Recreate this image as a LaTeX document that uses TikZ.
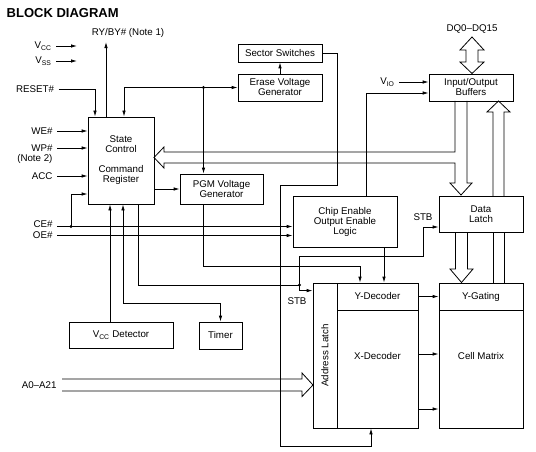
\documentclass[tikz,border=0pt]{standalone}
\usepackage{fontspec}
\setmainfont{Liberation Sans}
\usetikzlibrary{arrows.meta,calc}

\begin{document}
\begin{tikzpicture}[x=1pt, y=-1pt, line width=0.8pt,
		every node/.style={font=\fontsize{9.75}{10}\selectfont},
		blk/.style={draw, fill=white, align=center, inner sep=0pt},
		lbl/.style={inner sep=1.5pt, outer sep=3pt},
		arr/.style={-{Latex[length=6pt, width=3.5pt]}},
		arrs/.style={{Latex[length=6pt, width=3.5pt]}-{Latex[length=6pt, width=3.5pt]}}]
			\useasboundingbox (0,0) rectangle (536,452);
			\node[anchor=west, font=\bfseries\fontsize{13}{15}\selectfont] (title) at (3,13) {BLOCK DIAGRAM};

			\node[blk, minimum width=66pt, minimum height=87pt] (sc) at (121,160.5) {State\\Control\\[10pt]Command\\Register};
			\node[blk, minimum width=83pt, minimum height=30pt] (pgm) at (221.5,189) {PGM Voltage\\Generator};
			\node[blk, minimum width=84pt, minimum height=18pt] (ss) at (280,53) {Sector Switches};
			\node[blk, minimum width=84pt, minimum height=27pt] (evg) at (280,87.5) {Erase Voltage\\Generator};
			\node[blk, minimum width=84pt, minimum height=27pt] (iob) at (471,87.5) {Input/Output\\Buffers};
			\node[blk, minimum width=104pt, minimum height=51pt] (ceo) at (345,221.5) {Chip Enable\\Output Enable\\Logic};
			\node[blk, minimum width=84pt, minimum height=36pt] (dl) at (481,214) {Data\\Latch};
			\node[blk, minimum width=104pt, minimum height=26pt] (vccd) at (121,335) {V\textsubscript{CC} Detector};
			\node[blk, minimum width=43pt, minimum height=27pt] (timer) at (220.5,335.5) {Timer};
			\node[blk, minimum width=24pt, minimum height=145pt] (al) at (325,355.5) {\rotatebox{90}{Address Latch}};
			\node[blk, minimum width=81pt, minimum height=27pt] (yd) at (377.5,296.5) {Y-Decoder};
			\node[blk, minimum width=81pt, minimum height=118pt, label={[yshift=13pt]center:X-Decoder}] (xd) at (377.5,369) {};
			\node[blk, minimum width=84pt, minimum height=27pt] (yg) at (481,296.5) {Y-Gating};
			\node[blk, minimum width=84pt, minimum height=118pt, label={[yshift=13pt]center:Cell Matrix}] (cm) at (481,369) {};

			\node[lbl] (ryby) at (128,33) {RY/BY\# (Note 1)};
			\node[lbl, anchor=east] (vcc) at (56,46) {V\textsubscript{CC}};
			\node[lbl, anchor=east] (vss) at (56,61) {V\textsubscript{SS}};
			\node[lbl, anchor=east] (reset) at (58.5,89) {RESET\#};
			\node[lbl, anchor=east] (we) at (57,131) {WE\#};
			\node[lbl, anchor=east] (wp) at (57,148) {WP\#};
			\node[lbl, anchor=east] (note) at (57,159) {(Note 2)};
			\node[lbl, anchor=east] (acc) at (57,176) {ACC};
			\node[lbl, anchor=east] (ce) at (57,224) {CE\#};
			\node[lbl, anchor=east] (oe) at (57,235.5) {OE\#};
			\node[lbl, anchor=east] (addr) at (61,385) {A0--A21};
			\node[lbl] (dq) at (472,29) {DQ0--DQ15};
			\node[lbl, anchor=east] (vio) at (399,82) {V\textsubscript{IO}};
			\node[lbl] (stba) at (297,301) {STB};
			\node[lbl] (stbb) at (423,217) {STB};

			\coordinate (vccend) at (77,46);
			\coordinate (vssend) at (77,61);
			\coordinate (rybyout) at ($(sc.north)+(-15,0)$);
			\coordinate (pgmtap) at ($(pgm.north)+(-18,0)$);
			\coordinate (cedot) at (71,226.5);
			\coordinate (stbdot) at (299.5,285);
			\coordinate (ceout) at ($(ceo.south)+(39,0)$);

			% supplies and control inputs
			\draw[arr] (vcc.east) -- (vccend);
			\draw[arr] (vss.east) -- (vssend);
			\draw[arr] (rybyout) -- (rybyout |- ryby.south);
			\draw[arr] (reset.east) -| ($(sc.north)+(-26,0)$);
			\draw[arr] (we.east) -- (we.east -| sc.west);
			\draw[arr] (wp.east) -- (wp.east -| sc.west);
			\draw[arr] (acc.east) -- (acc.east -| sc.west);
			\draw[arr] (ce.east |- cedot) -- (ceo.west |- cedot);
			\draw[arr] (oe.east) -- (oe.east -| ceo.west);
			\draw[arr] (cedot) |- ($(sc.west)+(0,33.5)$);
			\fill (cedot) circle (1.6pt);

			% erase / program
			\draw[arrs] ($(sc.north)+(3,0)$) |- (evg.west);
			\draw[arr] (pgmtap |- evg.west) -- (pgmtap);
			\fill (pgmtap |- evg.west) circle (1.6pt);
			\draw[arr] (evg.north) -- (ss.south);
			\draw[arr] (ss.east) -- ++(15,0) -- ++(0,132) -- ++(-57,0) -- ++(0,261) -| ($(xd.south)+(-6.5,0)$);
			\draw[arr] (sc.east |- pgm.west) -- (pgm.west);
			\draw[arr] ($(pgm.south)+(-18,0)$) -- ++(0,62) -| ($(yd.north)+(-17.5,0)$);
			\draw[arr] ($(vccd.north)+(-11,0)$) -- ($(sc.south)+(-11,0)$);
			\draw[arrs] ($(sc.south)+(2,0)$) -- ++(0,99) -| (timer.north);

			% strobe
			\draw ($(sc.south)+(17,0)$) |- (stbdot);
			\fill (stbdot) circle (1.6pt);
			\draw[arr] (stbdot) |- ($(al.north west)+(0,8)$);
			\draw[arr] (stbdot) -- ++(0,-29) -- ++(123.5,0) |- ($(dl.west)+(0,13)$);

			\draw[arr] (ceout) -- (ceout |- yd.north);
			\draw[arr] ($(ceo.north)+(21,0)$) |- ($(iob.west)+(0,5.5)$);
			\draw[arr] (vio.east) -- (vio.east -| iob.west);

			\draw[arr] (yd.east) -- (yg.west);
			\draw[arr] ($(xd.east)+(0,-15)$) -- ($(cm.west)+(0,-15)$);
			\draw[arr] ($(xd.east)+(0,40)$) -- ($(cm.west)+(0,40)$);

			% buses
			\draw (455,101) -- (455,152) -- (164,152) -- (164,147) -- (154,157.5) -- (164,168) -- (164,163) -- (455,163) -- (455,183) -- (450,183) -- (461,195) -- (472,183) -- (467,183) -- (467,101);
			\draw (455.5,232) -- (455.5,269) -- (450,269) -- (461.5,282.5) -- (473,269) -- (467.5,269) -- (467.5,232);
			\draw (493,283) -- (493,232) (504,232) -- (504,283);
			\draw (493,196) -- (493,112) -- (487,112) -- (498.5,101) -- (510,112) -- (504,112) -- (504,196);
			\draw (466,50) -- (466,62) -- (460,62) -- (472,73.5) -- (484,62) -- (478,62) -- (478,50) -- (484,50) -- (472,37) -- (460,50) -- cycle;
			\draw (62,379) -- (302,379) -- (302,373) -- (313,385) -- (302,396.5) -- (302,391) -- (62,391);
		\end{tikzpicture}
\end{document}
